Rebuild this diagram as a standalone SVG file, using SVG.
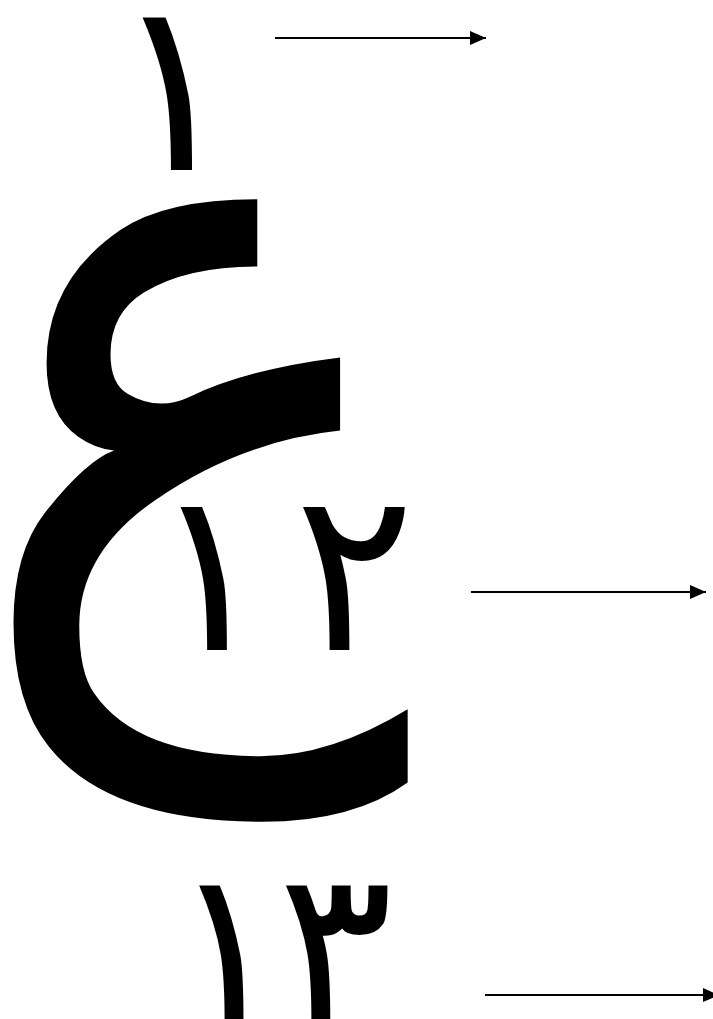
<svg xmlns="http://www.w3.org/2000/svg" width="713" height="1019" viewBox="0 0 713 1019">
<style>
.t{font-family:"DejaVu Sans",sans-serif;fill:#000}
.c line{stroke:#000;stroke-width:2}
</style>
<defs><marker id="a" markerWidth="16" markerHeight="14" refX="16" refY="7" orient="auto" markerUnits="userSpaceOnUse"><path d="M0,0L16,7L0,14z" fill="#000"/></marker></defs>
<rect width="713" height="1019" fill="#fff"/>
<g id="n1"><text class="t" x="110" y="170" font-size="240">١</text></g>
<g id="n2"><text class="t" transform="translate(-29,623) scale(1.24,1.357)" x="0" y="0" font-size="600">ع</text></g>
<g id="n3"><text class="t" x="150 294" y="650" font-size="225">١٢</text></g>
<g id="n4"><text class="t" x="170 278" y="1022" font-size="215">١٣</text></g>
<g class="c" id="connectors">
<line x1="275" y1="38" x2="486" y2="38" marker-end="url(#a)"/>
<line x1="471" y1="592" x2="706" y2="592" marker-end="url(#a)"/>
<line x1="485" y1="995" x2="719" y2="995" marker-end="url(#a)"/>
</g>
</svg>
